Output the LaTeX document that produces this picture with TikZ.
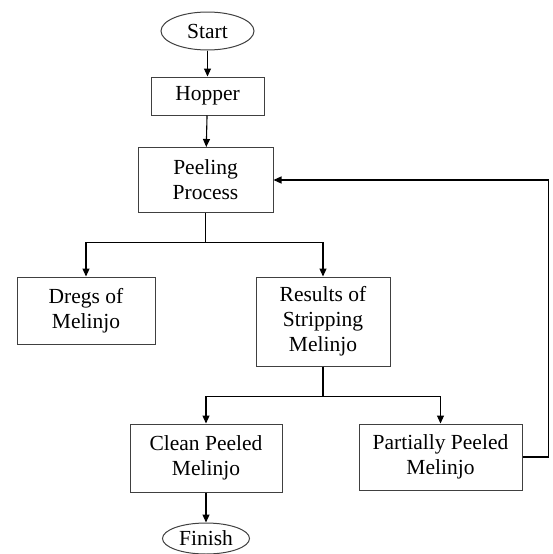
\documentclass[tikz,border=0pt]{standalone}
\usepackage{fontspec}
\setmainfont{Liberation Serif}
\usetikzlibrary{shapes.geometric,arrows.meta}
\begin{document}
\begin{tikzpicture}[x=1pt,y=-1pt,
    box/.style={draw=black!75,line width=1pt,inner sep=0pt,align=center,font=\fontsize{21.5}{25}\selectfont},
    term/.style={box,ellipse},
    arr/.style={draw,line width=1.1pt,-{Triangle[length=8pt,width=7pt]}}]
      \useasboundingbox (0,0) rectangle (552,554);
      \node[term,minimum width=93,minimum height=38] (start) at (207.5,31) {Start};
      \node[box,minimum width=113,minimum height=38] (hopper) at (207.5,96) {Hopper};
      \node[box,minimum width=135,minimum height=65] (peel) at (205.5,180) {Peeling\\Process};
      \node[box,minimum width=138,minimum height=67] (dregs) at (86,310.5) {Dregs of\\Melinjo};
      \node[box,minimum width=134,minimum height=89] (results) at (323,321.5) {Results of\\Stripping\\Melinjo};
      \node[box,minimum width=152,minimum height=68] (clean) at (206,458) {Clean Peeled\\Melinjo};
      \node[box,minimum width=163,minimum height=66] (partial) at (440.5,457) {Partially Peeled\\Melinjo};
      \node[term,minimum width=87,minimum height=31] (finish) at (206,538.5) {Finish};
      \draw[arr] (start) -- (hopper);
      \draw[arr] (hopper) -- (peel);
      \draw[arr] (peel.south) -- ++(0,29.5) -| (dregs.north);
      \draw[arr] (peel.south) -- ++(0,29.5) -| (results.north);
      \draw[arr] (results.south) -- ++(0,30) -| (clean.north);
      \draw[arr] (results.south) -- ++(0,30) -| (partial.north);
      \draw[arr] (clean) -- (finish);
      \draw[arr] (partial.east) -- ++(26,0) |- (peel.east);
\end{tikzpicture}
\end{document}
